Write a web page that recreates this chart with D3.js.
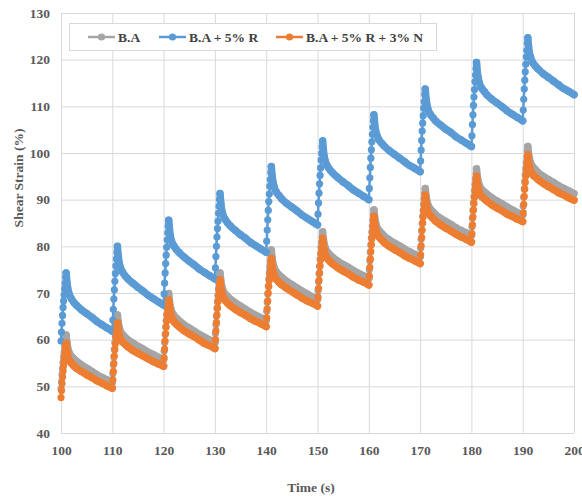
<!DOCTYPE html>
<html>
<head>
<meta charset="utf-8">
<script src="https://cdn.jsdelivr.net/npm/d3@7"></script>
<style>
  body { margin: 0; background: #fff; }
  svg { display: block; font-family: "Liberation Serif", "Times New Roman", serif; font-weight: bold; }
</style>
</head>
<body>
<div id="chart"></div>
<script>
// time grid: each loading cycle starts every 10 s, samples at these offsets
const cycleStarts = [100, 110, 120, 130, 140, 150, 160, 170, 180, 190];
const offsets = [0, 0.1, 0.2, 0.3, 0.4, 0.5, 0.6, 0.7, 0.8, 0.9, 1.0, 1.15, 1.3, 1.5, 2, 2.5, 3, 4, 5, 6, 7, 8, 9];
const endTime = 200;
const xTicks = [100, 110, 120, 130, 140, 150, 160, 170, 180, 190, 200];
const yTicks = [40, 50, 60, 70, 80, 90, 100, 110, 120, 130];

const seriesNames = ['B.A', 'B.A + 5% R', 'B.A + 5% R + 3% N'];

// shear strain (%) per cycle
const baValues = [
  [49.5, 51.0, 52.5, 53.9, 55.1, 56.3, 57.3, 58.4, 59.3, 60.2, 61.0, 59.4, 58.3, 57.5, 56.5, 55.9, 55.4, 54.6, 53.9, 53.2, 52.5, 51.9, 51.4],
  [50.8, 52.7, 54.6, 56.3, 57.9, 59.4, 60.7, 62.0, 63.1, 64.3, 65.3, 63.8, 62.8, 62.0, 61.1, 60.5, 60.0, 59.3, 58.6, 58.0, 57.3, 56.8, 56.2],
  [55.7, 57.5, 59.4, 61.1, 62.7, 64.1, 65.4, 66.6, 67.8, 68.9, 69.9, 68.2, 67.1, 66.3, 65.2, 64.6, 64.1, 63.2, 62.5, 61.8, 61.1, 60.5, 59.9],
  [59.3, 61.3, 63.2, 65.0, 66.7, 68.2, 69.5, 70.9, 72.1, 73.3, 74.3, 72.7, 71.6, 70.8, 69.8, 69.2, 68.7, 67.9, 67.2, 66.5, 65.8, 65.2, 64.7],
  [64.1, 66.1, 68.0, 69.8, 71.5, 73.0, 74.4, 75.7, 76.9, 78.1, 79.2, 77.5, 76.4, 75.6, 74.5, 73.9, 73.4, 72.5, 71.8, 71.1, 70.4, 69.8, 69.2],
  [68.6, 70.5, 72.4, 74.1, 75.7, 77.2, 78.5, 79.8, 80.9, 82.1, 83.1, 81.5, 80.5, 79.7, 78.7, 78.1, 77.6, 76.8, 76.1, 75.5, 74.8, 74.2, 73.7],
  [73.1, 75.0, 76.9, 78.7, 80.3, 81.8, 83.1, 84.4, 85.6, 86.8, 87.8, 86.2, 85.2, 84.4, 83.4, 82.8, 82.2, 81.4, 80.7, 80.1, 79.4, 78.8, 78.3],
  [77.7, 79.6, 81.5, 83.3, 84.9, 86.4, 87.7, 89.0, 90.2, 91.4, 92.4, 90.8, 89.8, 89.0, 88.0, 87.4, 86.8, 86.0, 85.3, 84.7, 84.0, 83.4, 82.9],
  [82.3, 84.2, 86.0, 87.7, 89.3, 90.7, 92.0, 93.3, 94.5, 95.6, 96.6, 95.0, 94.0, 93.2, 92.2, 91.7, 91.2, 90.4, 89.7, 89.1, 88.4, 87.8, 87.2],
  [86.7, 88.6, 90.5, 92.3, 93.9, 95.4, 96.7, 98.0, 99.2, 100.4, 101.4, 99.8, 98.8, 98.0, 97.0, 96.4, 95.8, 95.0, 94.3, 93.7, 93.0, 92.4, 91.9]
];
const baFinal = 91.3;

const baRValues = [
  [59.7, 61.6, 63.5, 65.2, 66.9, 68.3, 69.6, 70.9, 72.1, 73.3, 74.3, 72.3, 71.1, 70.1, 68.8, 68.0, 67.4, 66.4, 65.6, 64.8, 63.9, 63.2, 62.5],
  [61.8, 64.2, 66.5, 68.7, 70.7, 72.5, 74.2, 75.8, 77.3, 78.7, 80.0, 78.0, 76.7, 75.7, 74.5, 73.7, 73.1, 72.1, 71.2, 70.4, 69.5, 68.8, 68.1],
  [67.4, 69.8, 72.1, 74.3, 76.3, 78.1, 79.8, 81.4, 82.9, 84.3, 85.6, 83.6, 82.3, 81.3, 80.1, 79.3, 78.7, 77.7, 76.8, 76.0, 75.1, 74.4, 73.7],
  [73.0, 75.4, 77.8, 80.0, 82.0, 83.8, 85.4, 87.1, 88.6, 90.0, 91.3, 89.3, 88.0, 87.0, 85.8, 85.0, 84.4, 83.4, 82.5, 81.7, 80.8, 80.1, 79.4],
  [78.7, 81.1, 83.5, 85.7, 87.7, 89.6, 91.2, 92.9, 94.3, 95.8, 97.1, 95.1, 93.9, 92.9, 91.6, 90.9, 90.2, 89.2, 88.4, 87.6, 86.7, 86.0, 85.3],
  [84.6, 86.9, 89.3, 91.4, 93.4, 95.2, 96.8, 98.5, 99.9, 101.3, 102.6, 100.6, 99.3, 98.3, 97.1, 96.3, 95.7, 94.7, 93.8, 93.0, 92.1, 91.4, 90.7],
  [90.0, 92.4, 94.7, 96.9, 98.9, 100.7, 102.4, 104.0, 105.5, 106.9, 108.2, 106.2, 105.0, 104.1, 102.8, 102.1, 101.5, 100.5, 99.7, 98.9, 98.1, 97.3, 96.7],
  [96.0, 98.3, 100.6, 102.7, 104.7, 106.4, 108.0, 109.6, 111.0, 112.5, 113.7, 111.7, 110.5, 109.5, 108.3, 107.6, 106.9, 106.0, 105.1, 104.4, 103.5, 102.8, 102.1],
  [101.4, 103.7, 106.1, 108.2, 110.2, 112.0, 113.6, 115.3, 116.7, 118.1, 119.4, 117.4, 116.2, 115.2, 113.9, 113.2, 112.5, 111.5, 110.7, 109.9, 109.0, 108.3, 107.6],
  [106.9, 109.2, 111.5, 113.7, 115.6, 117.4, 119.0, 120.6, 122.0, 123.5, 124.7, 122.7, 121.5, 120.6, 119.3, 118.6, 118.0, 117.0, 116.2, 115.4, 114.6, 113.8, 113.2]
];
const baRFinal = 112.5;

const baRNValues = [
  [47.6, 49.1, 50.6, 52.0, 53.3, 54.4, 55.5, 56.5, 57.5, 58.4, 59.2, 57.7, 56.7, 55.9, 55.0, 54.4, 53.9, 53.2, 52.5, 51.9, 51.2, 50.7, 50.1],
  [49.6, 51.4, 53.2, 54.9, 56.5, 57.9, 59.1, 60.4, 61.5, 62.6, 63.6, 62.1, 61.2, 60.4, 59.5, 59.0, 58.5, 57.7, 57.1, 56.5, 55.9, 55.3, 54.8],
  [54.3, 56.1, 58.0, 59.7, 61.3, 62.7, 64.0, 65.2, 66.4, 67.5, 68.5, 66.8, 65.8, 65.0, 63.9, 63.3, 62.8, 61.9, 61.2, 60.6, 59.9, 59.2, 58.7],
  [58.1, 60.0, 61.9, 63.7, 65.3, 66.8, 68.1, 69.4, 70.6, 71.8, 72.8, 71.2, 70.2, 69.4, 68.4, 67.8, 67.3, 66.5, 65.8, 65.2, 64.5, 63.9, 63.4],
  [62.8, 64.7, 66.6, 68.3, 70.0, 71.4, 72.7, 74.0, 75.2, 76.4, 77.4, 75.8, 74.7, 73.9, 72.9, 72.3, 71.8, 71.0, 70.3, 69.6, 68.9, 68.3, 67.8],
  [67.2, 69.1, 71.0, 72.7, 74.3, 75.8, 77.1, 78.4, 79.5, 80.7, 81.7, 80.1, 79.1, 78.3, 77.3, 76.7, 76.2, 75.4, 74.7, 74.1, 73.4, 72.8, 72.3],
  [71.7, 73.6, 75.5, 77.3, 78.9, 80.4, 81.7, 83.0, 84.2, 85.4, 86.4, 84.8, 83.8, 83.0, 82.0, 81.4, 80.8, 80.0, 79.3, 78.7, 78.0, 77.4, 76.9],
  [76.3, 78.2, 80.1, 81.9, 83.5, 85.0, 86.3, 87.6, 88.8, 90.0, 91.0, 89.4, 88.4, 87.6, 86.6, 86.0, 85.4, 84.6, 83.9, 83.3, 82.6, 82.0, 81.5],
  [80.9, 82.7, 84.6, 86.3, 87.8, 89.2, 90.5, 91.8, 92.9, 94.0, 95.0, 93.4, 92.5, 91.7, 90.7, 90.2, 89.7, 88.9, 88.2, 87.6, 86.9, 86.4, 85.8],
  [85.3, 87.2, 89.0, 90.7, 92.3, 93.7, 95.0, 96.3, 97.5, 98.6, 99.6, 98.0, 97.1, 96.3, 95.3, 94.8, 94.3, 93.5, 92.8, 92.2, 91.5, 91.0, 90.4]
];
const baRNFinal = 89.9;

const colors = ['#a5a5a5', '#5b9bd5', '#ed7d31'];
const peakIndex = 10; // offset index where loading stops and relaxation begins

const margin = { top: 13, right: 8, bottom: 64, left: 61 };
const W = 582, H = 497;
const width = W - margin.left - margin.right;
const height = H - margin.top - margin.bottom;

const svg = d3.select('#chart').append('svg')
  .attr('width', W)
  .attr('height', H);

const g = svg.append('g')
  .attr('transform', `translate(${margin.left},${margin.top})`);

const x = d3.scaleLinear().domain([100, 200]).range([0, width]);
const y = d3.scaleLinear().domain([40, 130]).range([height, 0]);

// gridlines
g.append('g')
  .call(d3.axisLeft(y).tickValues(yTicks).tickSize(-width).tickFormat(''))
  .call(a => a.select('.domain').remove())
  .selectAll('line').attr('stroke', '#d9d9d9');
g.append('g')
  .attr('transform', `translate(0,${height})`)
  .call(d3.axisBottom(x).tickValues(xTicks).tickSize(-height).tickFormat(''))
  .call(a => a.select('.domain').remove())
  .selectAll('line').attr('stroke', '#d9d9d9');

// tick labels
g.append('g')
  .call(d3.axisLeft(y).tickValues(yTicks).tickSize(0).tickPadding(11))
  .call(a => a.select('.domain').remove())
  .selectAll('text')
  .attr('fill', '#595959')
  .style('font-size', '13.5px')
  .style('font-family', '"Liberation Serif", serif')
  .style('font-weight', 'bold');
g.append('g')
  .attr('transform', `translate(0,${height})`)
  .call(d3.axisBottom(x).tickValues(xTicks).tickSize(0).tickPadding(12))
  .call(a => a.select('.domain').remove())
  .selectAll('text')
  .attr('fill', '#595959')
  .style('font-size', '13.5px')
  .style('font-family', '"Liberation Serif", serif')
  .style('font-weight', 'bold');

// axis titles
svg.append('text')
  .attr('x', 311)
  .attr('y', 492)
  .attr('text-anchor', 'middle')
  .attr('fill', '#595959')
  .style('font-size', '13.5px')
  .text('Time (s)');
svg.append('text')
  .attr('transform', 'translate(23,178) rotate(-90)')
  .attr('text-anchor', 'middle')
  .attr('fill', '#595959')
  .style('font-size', '13.5px')
  .text('Shear Strain (%)');

// build series points
function toPoints(values, finalValue) {
  const pts = [];
  values.forEach((cyc, c) => {
    cyc.forEach((v, j) => pts.push({ t: cycleStarts[c] + offsets[j], v: v }));
  });
  pts.push({ t: endTime, v: finalValue });
  return pts;
}

const series = [
  toPoints(baValues, baFinal),
  toPoints(baRValues, baRFinal),
  toPoints(baRNValues, baRNFinal)
];

const line = d3.line().x(d => x(d.t)).y(d => y(d.v));
const smooth = d3.line().x(d => x(d.t)).y(d => y(d.v)).curve(d3.curveMonotoneX);

series.forEach((pts, s) => {
  const sg = g.append('g');
  // relaxation parts: densely sampled in the original, drawn as a thick band
  cycleStarts.forEach((c0, c) => {
    const start = c * offsets.length + peakIndex;
    const seg = pts.slice(start, (c + 1) * offsets.length + 1);
    sg.append('path')
      .attr('d', smooth(seg))
      .attr('fill', 'none')
      .attr('stroke', colors[s])
      .attr('stroke-width', 7.5)
      .attr('stroke-linecap', 'round')
      .attr('stroke-linejoin', 'round');
  });
  sg.append('path')
    .attr('d', line(pts))
    .attr('fill', 'none')
    .attr('stroke', colors[s])
    .attr('stroke-width', 2.5);
  sg.selectAll('circle')
    .data(pts)
    .enter()
    .append('circle')
    .attr('cx', d => x(d.t))
    .attr('cy', d => y(d.v))
    .attr('r', 3.6)
    .attr('fill', colors[s]);
});

// legend
const legend = svg.append('g');
legend.append('rect')
  .attr('x', 69.5).attr('y', 23.5)
  .attr('width', 367).attr('height', 27)
  .attr('fill', '#fff')
  .attr('stroke', '#d9d9d9');
const legendX = [88, 159, 276];
seriesNames.forEach((name, i) => {
  const lg = legend.append('g').attr('transform', `translate(${legendX[i]},37)`);
  lg.append('line')
    .attr('x1', 0).attr('x2', 27)
    .attr('stroke', colors[i]).attr('stroke-width', 2.5);
  lg.append('circle')
    .attr('cx', 13.5).attr('r', 3.6)
    .attr('fill', colors[i]);
  lg.append('text')
    .attr('x', 30)
    .attr('dy', '0.35em')
    .attr('fill', '#404040')
    .style('font-size', '13.5px')
    .text(name);
});
</script>
</body>
</html>
